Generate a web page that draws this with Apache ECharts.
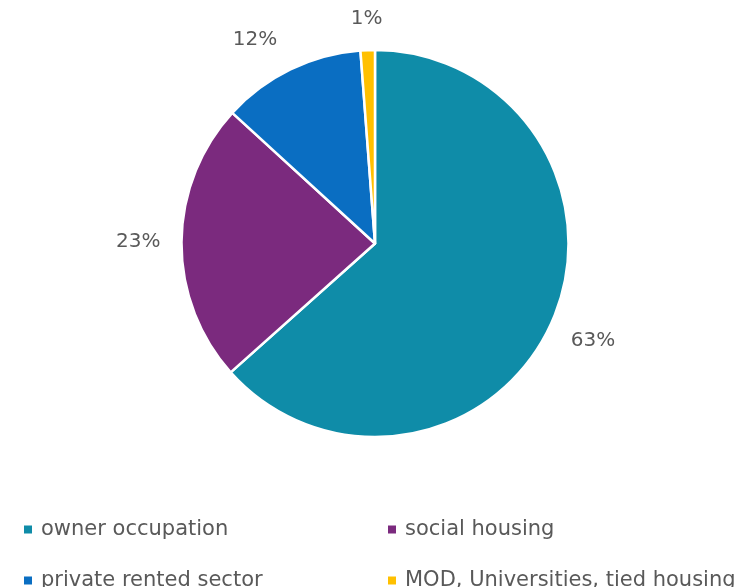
<!DOCTYPE html>
<html>
<head>
<meta charset="utf-8">
<script src="https://cdn.jsdelivr.net/npm/echarts@6/dist/echarts.min.js"></script>
<style>
html,body{margin:0;padding:0;background:#fff;}
#chart{width:749px;height:587px;}
</style>
</head>
<body>
<div id="chart"></div>
<script>
const categories = ['owner occupation', 'social housing', 'private rented sector', 'MOD, Universities, tied housing'];
const values = [63.4, 23.4, 12.0, 1.2];
const colors = ['#0F8CA8', '#7B2A7E', '#0A6EC2', '#FFC000'];

const FONT = 'DejaVu Sans';
const CX = 375, CY = 243.5, R = 193.5, LABEL_GAP = 21;

const total = values.reduce((a, b) => a + b, 0);
const midAngles = [];
let acc = 0;
values.forEach(v => { midAngles.push((acc + v / 2) / total * 2 * Math.PI); acc += v; });

const chart = echarts.init(document.getElementById('chart'), null, {renderer: 'canvas'});
const legendText = {color: '#595959', fontSize: 21, fontFamily: FONT, lineHeight: 20, padding: [0, 0, 0, 3]};
const legendBase = {
  orient: 'vertical', top: 519, height: 100, padding: 0,
  icon: 'rect', itemWidth: 10, itemHeight: 10, itemGap: 30,
  textStyle: legendText, selectedMode: false
};
chart.setOption({
  animation: false,
  color: colors,
  legend: [
    Object.assign({}, legendBase, {left: 22, data: [categories[0], categories[2]]}),
    Object.assign({}, legendBase, {left: 386, data: [categories[1], categories[3]]})
  ],
  series: [{
    type: 'pie',
    center: [CX, CY],
    radius: [0, R],
    startAngle: 90,
    clockwise: true,
    itemStyle: {borderColor: '#ffffff', borderWidth: 2.5},
    label: {
      show: true,
      position: 'outside',
      color: '#595959',
      fontSize: 20,
      fontFamily: FONT,
      formatter: p => Math.round(p.percent) + '%'
    },
    labelLine: {show: false, length: 10, length2: 0},
    labelLayout: function (params) {
      const a = midAngles[params.dataIndex];
      const s = Math.sin(a), c = Math.cos(a);
      const w = params.labelRect.width, h = params.labelRect.height;
      const d = R + LABEL_GAP + Math.abs(s) * w / 2 + Math.abs(c) * h / 2;
      let x = CX + d * s;
      let y = CY - d * c;
      if (params.dataIndex === 2) { x -= 18; y += 6; }
      return {x: x, y: y, align: 'center', verticalAlign: 'middle'};
    },
    emphasis: {disabled: true},
    data: categories.map((c, i) => ({name: c, value: values[i]}))
  }]
});
</script>
</body>
</html>
